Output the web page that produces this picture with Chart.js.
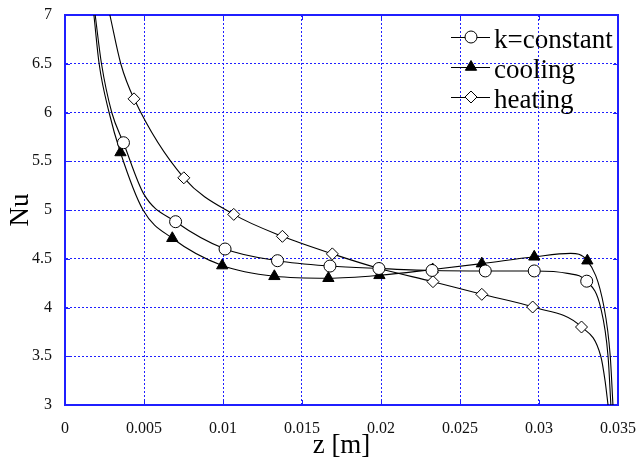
<!DOCTYPE html>
<html>
<head>
<meta charset="utf-8">
<title>Nu vs z</title>
<script src="https://cdn.jsdelivr.net/npm/chart.js@4.4.0/dist/chart.umd.min.js"></script>
<style>
    html, body { margin: 0; padding: 0; background: #fff; }
    #wrap { width: 636px; height: 460px; position: relative; }
</style>
</head>
<body>
<div id="wrap"><canvas id="nuChart"></canvas></div>
<script>
/* ================================
   DATA
================================ */
const xTicks = [0, 0.005, 0.01, 0.015, 0.02, 0.025, 0.03, 0.035];
const yTicks = [3, 3.5, 4, 4.5, 5, 5.5, 6, 6.5, 7];

// marker positions
const zConst = [0.0037, 0.0070, 0.01013, 0.01345, 0.01677, 0.01987, 0.02323, 0.0266, 0.0297, 0.03302];
const nuConst = [5.69, 4.88, 4.60, 4.48, 4.425, 4.40, 4.38, 4.375, 4.375, 4.27];

const zCool = [0.00351, 0.00679, 0.00995, 0.01325, 0.01667, 0.0199, 0.02327, 0.02638, 0.0297, 0.03306];
const nuCool = [5.59, 4.71, 4.43, 4.32, 4.30, 4.33, 4.39, 4.45, 4.52, 4.48];

const zHeat = [0.00437, 0.00752, 0.01068, 0.01376, 0.01692, 0.0199, 0.02329, 0.02638, 0.0296, 0.03269];
const nuHeat = [6.14, 5.33, 4.955, 4.73, 4.55, 4.40, 4.265, 4.135, 4.005, 3.80];

// the drawn curves (markers plus points read along the line ends)
const zConstCurve = [0.00191, 0.00231, 0.00296, 0.0037, 0.005, 0.0070, 0.01013, 0.01345, 0.01677, 0.01987, 0.02323, 0.0266, 0.0297, 0.0318, 0.03302, 0.0339, 0.03437, 0.03455];
const nuConstCurve = [7.0, 6.5, 6.0, 5.69, 5.16, 4.88, 4.60, 4.48, 4.425, 4.40, 4.38, 4.375, 4.375, 4.35, 4.27, 4.0, 3.5, 3.0];

const zCoolCurve = [0.00183, 0.00216, 0.00279, 0.00351, 0.00494, 0.00679, 0.00995, 0.01325, 0.01667, 0.0199, 0.02327, 0.02638, 0.0297, 0.032, 0.03306, 0.03412, 0.03451, 0.03468];
const nuCoolCurve = [7.0, 6.5, 6.0, 5.59, 5.0, 4.71, 4.43, 4.32, 4.30, 4.33, 4.39, 4.45, 4.52, 4.555, 4.48, 4.0, 3.5, 3.0];

const zHeatCurve = [0.00284, 0.00353, 0.00437, 0.00752, 0.01068, 0.01376, 0.01692, 0.0199, 0.02329, 0.02638, 0.0296, 0.03269, 0.03391, 0.03418, 0.03437];
const nuHeatCurve = [7.0, 6.5, 6.14, 5.33, 4.955, 4.73, 4.55, 4.40, 4.265, 4.135, 4.005, 3.80, 3.5, 3.25, 3.0];

const seriesNames = ['k=constant', 'cooling', 'heating'];

/* ================================
   HELPERS
================================ */
const pts = (xs, ys) => xs.map((x, i) => ({ x, y: ys[i] }));
const SERIF = "'Liberation Serif', 'DejaVu Serif', serif";
const GRID_BLUE = '#1f1fff';

const markerStyles = [
    { pointStyle: 'circle', radius: 6, fill: '#fff' },
    { pointStyle: 'triangle', radius: 6.5, fill: '#000' },
    { pointStyle: 'rectRot', radius: 6, fill: '#fff' }
];

function markerSet(label, xs, ys, m) {
    return {
        label,
        data: pts(xs, ys),
        showLine: false,
        pointStyle: m.pointStyle,
        pointRadius: m.radius,
        pointBackgroundColor: m.fill,
        pointBorderColor: '#000',
        pointBorderWidth: 1
    };
}

function curveSet(xs, ys) {
    return {
        label: '',
        data: pts(xs, ys),
        showLine: true,
        borderColor: '#000',
        borderWidth: 1.1,
        pointRadius: 0,
        cubicInterpolationMode: 'monotone',
        fill: false
    };
}

function drawMarker(ctx, m, x, y) {
    ctx.save();
    ctx.fillStyle = m.fill;
    ctx.strokeStyle = '#000';
    ctx.lineWidth = 1;
    ctx.beginPath();
    const r = m.radius;
    if (m.pointStyle === 'circle') {
        ctx.arc(x, y, r, 0, Math.PI * 2);
    } else if (m.pointStyle === 'triangle') {
        ctx.moveTo(x, y - r);
        ctx.lineTo(x + r * 0.866, y + r / 2);
        ctx.lineTo(x - r * 0.866, y + r / 2);
    } else {
        ctx.moveTo(x, y - r);
        ctx.lineTo(x + r, y);
        ctx.lineTo(x, y + r);
        ctx.lineTo(x - r, y);
    }
    ctx.closePath();
    ctx.fill();
    ctx.stroke();
    ctx.restore();
}

/* ================================
   PLUGINS: frame with inner ticks, legend box
================================ */
const framePlugin = {
    id: 'frame',
    beforeDatasetsDraw(chart) {
        const { ctx, chartArea: a, scales } = chart;
        ctx.save();
        ctx.strokeStyle = GRID_BLUE;
        ctx.lineWidth = 1;
        ctx.beginPath();
        xTicks.forEach(v => {
            const px = Math.round(scales.x.getPixelForValue(v)) + 0.5;
            ctx.moveTo(px, a.bottom); ctx.lineTo(px, a.bottom - 5);
            ctx.moveTo(px, a.top); ctx.lineTo(px, a.top + 5);
        });
        yTicks.forEach(v => {
            const py = Math.round(scales.y.getPixelForValue(v)) + 0.5;
            ctx.moveTo(a.left, py); ctx.lineTo(a.left + 5, py);
            ctx.moveTo(a.right, py); ctx.lineTo(a.right - 5, py);
        });
        ctx.stroke();
        ctx.lineWidth = 2;
        ctx.strokeRect(a.left, a.top, a.right - a.left, a.bottom - a.top);
        ctx.restore();
    }
};

const legendPlugin = {
    id: 'lineLegend',
    afterDraw(chart) {
        const { ctx, chartArea: a } = chart;
        const x0 = a.right - 167;
        const y0 = a.top + 22;
        ctx.save();
        ctx.font = '27px ' + SERIF;
        ctx.fillStyle = '#000';
        ctx.textBaseline = 'alphabetic';
        seriesNames.forEach((name, i) => {
            const y = y0 + i * 30;
            ctx.strokeStyle = '#000';
            ctx.lineWidth = 1;
            ctx.beginPath();
            ctx.moveTo(x0, y + 0.5);
            ctx.lineTo(x0 + 39, y + 0.5);
            ctx.stroke();
            drawMarker(ctx, markerStyles[i], x0 + 20, y);
            ctx.fillText(name, x0 + 43, y + 11);
        });
        ctx.restore();
    }
};

/* ================================
   CHART
================================ */
new Chart(document.getElementById('nuChart'), {
    type: 'scatter',
    data: {
        datasets: [
            markerSet(seriesNames[0], zConst, nuConst, markerStyles[0]),
            markerSet(seriesNames[1], zCool, nuCool, markerStyles[1]),
            markerSet(seriesNames[2], zHeat, nuHeat, markerStyles[2]),
            curveSet(zConstCurve, nuConstCurve),
            curveSet(zCoolCurve, nuCoolCurve),
            curveSet(zHeatCurve, nuHeatCurve)
        ]
    },
    options: {
        responsive: true,
        maintainAspectRatio: false,
        animation: false,
        layout: { padding: { top: 15, right: 18, left: 0, bottom: 0 } },
        plugins: {
            legend: { display: false },
            tooltip: { enabled: false }
        },
        scales: {
            x: {
                type: 'linear',
                min: 0,
                max: 0.035,
                afterBuildTicks: s => { s.ticks = xTicks.map(v => ({ value: v })); },
                afterFit: s => { s.height = 55; s.paddingRight = 0; s.paddingLeft = 0; },
                ticks: {
                    callback: v => String(+v.toFixed(3)),
                    font: { family: SERIF, size: 16 },
                    color: '#111',
                    padding: 14,
                    maxRotation: 0,
                    autoSkip: false
                },
                grid: { color: GRID_BLUE, lineWidth: 1, drawTicks: false },
                border: { color: GRID_BLUE, width: 2, dash: [2, 2] },
                title: {
                    display: true,
                    text: 'z [m]',
                    font: { family: SERIF, size: 27, lineHeight: 1 },
                    color: '#000',
                    padding: { top: 0, bottom: 1 }
                }
            },
            y: {
                min: 3,
                max: 7,
                afterBuildTicks: s => { s.ticks = yTicks.map(v => ({ value: v })); },
                afterFit: s => { s.width = 65; s.paddingTop = 0; s.paddingBottom = 0; },
                ticks: {
                    callback: v => String(v),
                    font: { family: SERIF, size: 16 },
                    color: '#111',
                    padding: 13,
                    autoSkip: false
                },
                grid: { color: GRID_BLUE, lineWidth: 1, drawTicks: false },
                border: { color: GRID_BLUE, width: 2, dash: [2, 2] },
                title: {
                    display: true,
                    text: 'Nu',
                    font: { family: SERIF, size: 27, lineHeight: 1 },
                    color: '#000',
                    padding: { top: 7, bottom: 0 }
                }
            }
        }
    },
    plugins: [framePlugin, legendPlugin]
});
</script>
</body>
</html>
